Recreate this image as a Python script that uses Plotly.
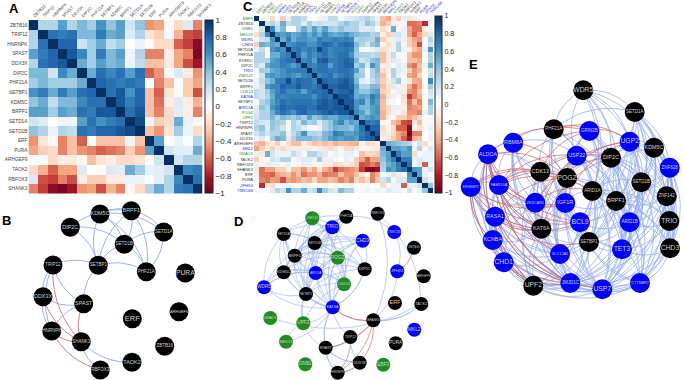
import numpy as np
import plotly.graph_objects as go

# ---------- Panel A correlation data ----------
genes_a = ["ZBTB16","TRIP12","HNRNPK","SPAST","DDX3X","DIP2C","PHF21A","SETBP1","KDM5C","BRPF1",
           "SETD1A","SETD1B","ERF","PURA","ARHGEF9","TAOK2","RBFOX3","SHANK3"]
upper_a = [
 [1,.3,.3,.55,.3,.45,.35,.6,.4,.55,.2,.4,-.45,-.4,.03,-.2,.15,-.5],
 [1,.75,.7,.75,.45,.45,.7,.5,.55,.15,.3,-.15,-.25,.03,-.35,-.65,-.7],
 [1,.8,.8,.2,.35,.5,.25,.35,0,.08,-.03,-.2,-.2,-.6,-.7,-.9],
 [1,.85,.65,.35,.7,.45,.55,.08,.3,-.5,-.5,-.1,-.4,-.5,-.95],
 [1,.5,.35,.55,.45,.5,.08,.25,-.3,-.3,-.12,-.4,-.65,-.85],
 [1,.5,.75,.65,.75,.55,.75,-.6,-.45,-.05,.15,-.1,-.45],
 [1,.8,.75,.7,.75,.7,.02,-.5,-.3,0,-.25,-.4],
 [1,.75,.85,.6,.8,-.3,-.6,-.15,-.03,-.25,-.65],
 [1,.85,.7,.8,-.3,-.55,-.1,.15,-.1,-.35],
 [1,.75,.85,-.3,-.5,-.2,.12,-.1,-.5],
 [1,.9,.08,-.25,-.2,.5,.1,-.05],
 [1,-.3,-.45,-.15,.35,.08,-.2],
 [1,.55,.02,.1,.02,.3],
 [1,.2,.12,.12,.5],
 [1,.2,.3,.3],
 [1,.65,.7],
 [1,.75],
 [1],
]

# ---------- Panel C correlation data ----------
genes_c = ["EBF3","ZBTB16","GNB1","MED13","WDR5","CHD3","SETD1A","PHF21A","KDM5C","DIP2C","TRIO","ZNF142",
           "SETD1B","BRPF1","CDK13","KAT6A","SETBP1","ARID1A","POGZ","UPF2","TRIP12","HNRNPK","SPAST","DDX3X",
           "ARHGEF9","MKL2","GNAO1","TAOK2","RBFOX3","SHANK3","ERF","PURA","ZFHX4","TNRC6B"]
group_c = ["g","k","g","g","b","b","k","k","k","k","b","g","k","k","g","b","k","b","g","g","k","k","k","k",
           "k","b","g","k","k","k","k","k","b","b"]
upper_c = [
 [1,.05,.02,-.2,.05,-.25,.1,.3,.3,.25,.03,.02,.08,.1,.25,.25,.05,.12,.15,.2,.25,.3,.2,.08,-.3,-.4,-.1,-.25,.1,-.15,-.1,.02,0,.05],
 [1,.2,.3,.2,.5,.25,.3,.3,.15,.35,.2,.25,.2,.2,.2,.3,.4,.3,.3,.2,.4,.3,.15,-.35,-.25,-.1,-.05,-.05,-.55,-.55,-.5,-.75,.05],
 [1,.65,.25,.45,.05,.05,.3,.5,.35,.55,.4,.55,.35,.3,.4,.3,.3,.3,.15,.15,.2,.05,-.2,-.1,.5,-.05,.1,-.4,-.55,-.55,-.1,.05],
 [1,.6,.55,.6,.5,.55,.6,.5,.6,.5,.65,.55,.5,.55,.6,.5,.45,.4,.4,.3,.35,-.1,-.25,.2,.2,.1,-.4,-.6,-.4,-.2,.15],
 [1,.5,.7,.5,.6,.6,.55,.55,.7,.65,.65,.7,.65,.7,.65,.3,.35,.3,.3,.5,-.25,-.1,.1,.15,.1,-.25,-.4,-.45,.05,.3],
 [1,.6,.65,.7,.7,.6,.6,.7,.8,.75,.65,.75,.8,.75,.45,.3,.2,.4,.45,-.05,-.2,.1,.3,-.05,-.25,-.35,-.65,0,.2],
 [1,.7,.75,.65,.7,.65,.9,.75,.65,.7,.7,.75,.7,.4,.05,.05,.1,.15,-.2,-.1,.1,.3,.1,-.1,-.3,-.4,.1,.6],
 [1,.75,.55,.7,.6,.7,.75,.65,.7,.75,.75,.6,.35,.3,.3,.25,.3,-.3,-.1,.25,.05,.05,-.3,-.45,-.45,.05,.3],
 [1,.65,.7,.55,.8,.85,.7,.7,.75,.8,.75,.45,.2,.25,.4,.45,-.3,-.1,.15,.1,-.05,-.3,-.3,-.4,.05,.3],
 [1,.7,.65,.75,.75,.55,.7,.75,.8,.8,.35,.45,.15,.6,.45,-.1,-.1,.05,.15,.1,-.45,-.55,-.3,.1,.5],
 [1,.7,.75,.75,.7,.7,.75,.75,.7,.55,.3,.05,.3,.45,-.2,-.1,.3,.15,.1,-.25,-.45,-.35,-.05,.2],
 [1,.65,.7,.75,.6,.7,.75,.7,.4,.35,.05,.3,.4,-.3,-.05,.3,.1,-.05,-.4,-.45,-.2,0,.25],
 [1,.8,.75,.75,.8,.85,.75,.45,.15,.1,.25,.35,-.25,-.1,.2,.35,.05,-.15,-.35,-.4,0,.65],
 [1,.8,.8,.85,.85,.8,.55,.3,.3,.45,.45,-.3,-.15,.15,.1,-.1,-.35,-.55,-.4,-.05,.35],
 [1,.75,.8,.8,.85,.5,.4,.4,.5,.55,-.25,-.2,.05,.1,-.1,-.45,-.5,-.3,0,.2],
 [1,.85,.85,.8,.5,.55,.5,.7,.6,-.35,-.15,.1,.05,-.2,-.7,-.5,-.35,-.05,.15],
 [1,.85,.85,.6,.65,.45,.65,.55,-.3,-.05,.05,0,-.15,-.55,-.3,-.5,-.05,.45],
 [1,.85,.6,.45,.45,.55,.6,-.3,-.2,.1,.1,-.1,-.5,-.45,-.4,-.05,.3],
 [1,.65,.55,.4,.55,.6,-.35,-.2,.1,.05,-.15,-.45,-.45,-.5,.1,.3],
 [1,.5,.55,.6,.55,-.35,-.1,.05,-.25,-.25,-.4,-.3,-.2,.05,.05],
 [1,.75,.7,.75,-.05,-.05,-.3,-.4,-.65,-.7,-.15,-.3,.05,.05],
 [1,.8,.8,-.2,-.05,-.2,-.6,-.6,-.9,-.05,-.2,-.05,.1],
 [1,.85,-.15,-.1,-.2,-.4,-.5,-.95,-.5,-.5,0,.05],
 [1,-.1,-.15,-.25,-.4,-.6,-.85,-.35,-.3,0,.1],
 [1,.5,.45,.4,.35,.3,.05,.2,-.2,.05],
 [1,.55,.55,.5,.6,.1,.3,-.05,.15],
 [1,.7,.55,.55,-.2,.05,.1,.1],
 [1,.7,.7,.1,.15,.1,.1],
 [1,.75,.05,.15,-.6,.05],
 [1,.6,.55,.1,.2],
 [1,.55,.1,.03],
 [1,.2,.1],
 [1,.4],
 [1],
]

# ---------- Network node tables ----------
pos_b = {"DIP2C":(70.3,227.3),"KDM5C":(100,214),"BRPF1":(131.3,210.7),"SETD1A":(163.7,232),"SETD1B":(124.3,244.3),
         "SETBP1":(98.3,265.3),"PHF21A":(146.3,271.7),"PURA":(185.3,273),"TRIP12":(53,265),"DDX3X":(43,296.7),
         "SPAST":(83.7,303.7),"ARHGEF9":(179,311.7),"ERF":(132.3,318.7),"HNRNPK":(51.7,331),"SHANK3":(81.3,341.7),
         "ZBTB16":(164.7,346.3),"TAOK2":(132,362.3),"RBFOX3":(100.3,370)}
pos_d = {"ZNF142":(312.3,218.3),"PHF21A":(346.3,216.7),"RBFOX3":(377.7,213.7),"TRIO":(332.3,227.3),"TNRC6B":(394.3,232),
         "SETD1A":(283.7,234),"CHD3":(362.7,240.7),"SETD1B":(314.7,243),"ZBTB16":(414,247.7),"BRPF1":(294.7,255.7),
         "POGZ":(337.7,257.7),"DIP2C":(364.7,269.3),"ZFHX4":(397.3,271.3),"KDM5C":(283.7,272.3),"ARID1A":(315.7,273),
         "ARHGEF9":(423.7,276.3),"CDK13":(344,284.3),"WDR5":(264,287.3),"SETBP1":(306,294),"ERF":(395,303),
         "TAOK2":(421.3,304),"KAT6A":(332.7,307.3),"GNAO1":(270.3,318),"SHANK3":(373.3,320.3),"UPF2":(303.3,323.3),
         "MKL2":(414.3,329.7),"TRIP12":(350.3,337),"MED13":(286,341.7),"PURA":(395.7,343.3),"SPAST":(325.7,347.7),
         "GNB1":(305.3,364.3),"DDX3X":(359.7,362.7),"EBF3":(383.3,364.7),"HNRNPK":(337.7,372.7)}
extra_blue_d = [("PHF21A","TNRC6B"),("TNRC6B","ZFHX4"),("ZFHX4","SHANK3"),("SHANK3","TAOK2"),("KAT6A","UPF2"),
                ("KAT6A","MED13"),("UPF2","MED13"),("KAT6A","SPAST"),("UPF2","SPAST"),("SPAST","TRIP12"),
                ("SPAST","HNRNPK"),("SPAST","DDX3X"),("TRIP12","HNRNPK"),("KAT6A","TRIP12"),("SETBP1","UPF2"),
                ("WDR5","KDM5C"),("WDR5","ARID1A"),("WDR5","SETBP1"),("SETBP1","KAT6A"),("ARID1A","UPF2"),
                ("CDK13","UPF2"),("CDK13","KAT6A"),("POGZ","KAT6A"),("DIP2C","KAT6A"),("CHD3","KAT6A")]
extra_red_d = [("KAT6A","SHANK3"),("DDX3X","HNRNPK")]
genes_e = ["WDR5","SETD1A","PHF21A","GRIN2B","UGP2","RBM8A","KDM5C","ALDOA","USP22","DIP2C","ZNF628","CDK13","POGZ",
           "SETD1B","EIF4EBP2","FAM114A","ARID1A","ZNF142","BRPF1","ZKSCAN1","IGF1R","RASA1","BCL9","ARID1B","TRIO",
           "KAT6A","KCNBA","SETBP1","TET3","CHD3","SLC12A5","CHD1","CTTNBP2","JMJD1C","UPF2","USP7"]
pos_e = [(583.3,90.3),(634.7,112),(553.7,129.3),(589.3,131),(629.7,141.7),(513.3,142.7),(654,147.7),(488,154.3),
         (576.7,155.7),(611,157.7),(669.7,167.7),(540.3,171.7),(567,178),(641.3,182.3),(470.7,187),(499,185),
         (592.3,191),(666.7,196.3),(616,201),(535.3,202.7),(565.3,203),(495,216.7),(580,222.3),(629.7,222.3),
         (669.3,221),(541.3,228.7),(492.7,240),(589,242),(622,249.3),(670,248.3),(560,254),(503.7,262.3),
         (640,283),(570.3,283),(533.3,285.7),(602.3,289.3)]
black_e = {"WDR5","SETD1A","PHF21A","KDM5C","DIP2C","CDK13","POGZ","SETD1B","ARID1A","ZNF142","BRPF1","TRIO",
           "KAT6A","SETBP1","CHD3","UPF2"}
blue_edges_e = {
 0:[1,4,6,8,9,13,16,18,22,2],1:[2,4,6,9,10,13,16,17,18,23,24,28,29],2:[8,11,12,16,18,20,22,27,5],
 3:[8,9,12,16,18,20,22,23,27,28],4:[6,9,10,13,16,17,18,22,23,24,27,28,29,35],5:[7,8,11,15,19,20,22,25,30,33],
 6:[9,10,13,16,17,18,23,24,27,28,29,32,35],7:[11,14,15,19,21,25,26,30,31,33,34],
 8:[9,11,12,13,16,18,20,22,23,27,28,30,33,35],9:[12,13,16,17,18,22,23,24,27,28,29,32,35],
 10:[13,17,18,23,24,28,29,32,35],11:[12,15,19,20,22,25,27,30,33,34,35],12:[16,18,20,22,23,25,27,28,30,33,35],
 13:[16,17,18,22,23,24,27,28,29,32,33,35],14:[15,19,21,25,26,30,31,33,34,35],15:[19,20,21,25,26,30,31,33,34],
 16:[18,20,22,23,24,27,28,29,30,32,33,35],17:[18,23,24,28,29,32,35],18:[20,22,23,24,27,28,29,30,32,33,35],
 19:[20,21,25,26,30,31,33,34,35],20:[22,25,27,28,30,33,34,35],21:[25,26,30,31,33,34,35],
 22:[23,25,27,28,30,32,33,34,35],23:[24,27,28,29,32,33,35],24:[28,29,32,35,34],25:[26,27,30,31,33,34,35],
 26:[30,31,33,34,35,32],27:[28,30,32,33,34,35],28:[29,32,33,35,34],29:[32,35,33],30:[31,33,34,35],31:[33,34,35,32],
 32:[33,35,34],33:[34,35],34:[35]}
red_edges_e = {14:[21,26,11,12,20,34,25,22],7:[21,25,19,12,3,34,33,30,22],15:[11,12,8,3,25,20,33,22,16],
               21:[33,25,12,27,34,22,35],26:[33],5:[12],19:[9,16,4],31:[33],2:[3,4],3:[4],11:[3,9],25:[8,9],12:[4],20:[4]}

panel_letters = [("A",7,9),("B",0,220),("C",241,7),("D",232,221),("E",467,65)]
colorbar_ticks = [-1,-.8,-.6,-.4,-.2,0,.2,.4,.6,.8,1]

RDBU = [[0,"#67001F"],[.1,"#B2182B"],[.2,"#D6604D"],[.3,"#F4A582"],[.4,"#FDDBC7"],[.5,"#FFFFFF"],
        [.6,"#D1E5F0"],[.7,"#92C5DE"],[.8,"#4393C3"],[.9,"#2166AC"],[1,"#053061"]]
W, H = 685, 380
FONT = "Liberation Sans, Arial, sans-serif"
GROUP_COL = {"g":"#2e8b22","b":"#2a2af0","k":"#333333"}
NODE_COL = {"g":"#228B22","b":"#0000FF","k":"#000000"}


def symmetric(upper):
    n = len(upper)
    m = np.zeros((n, n))
    for i, row in enumerate(upper):
        assert len(row) == n - i, (i, len(row))
        m[i, i:] = row
        m[i:, i] = row
    return m


def arc(p, q, centre, k, n=14):
    p, q = np.array(p), np.array(q)
    mid = (p + q) / 2
    d = q - p
    nrm = np.array([-d[1], d[0]])
    if np.dot(nrm, mid - centre) < 0:
        nrm = -nrm
    c = mid + k * nrm
    t = np.linspace(0, 1, n)[:, None]
    pts = (1 - t) ** 2 * p + 2 * t * (1 - t) * c + t ** 2 * q
    return pts


def edge_trace(pairs, pos, colour, width, opacity, k=.22, xa="x3", ya="y3"):
    all_pts = np.array(list(pos.values()))
    centre = all_pts.mean(axis=0)
    xs, ys = [], []
    for i, j in pairs:
        pts = arc(pos[i], pos[j], centre, k)
        xs += list(pts[:, 0]) + [None]
        ys += list(pts[:, 1]) + [None]
    return go.Scatter(x=xs, y=ys, mode="lines", xaxis=xa, yaxis=ya, hoverinfo="skip", showlegend=False,
                      opacity=opacity, line=dict(color=colour, width=width))


def node_trace(names, pos, cols, diam, k, maxsize):
    sizes = [min(maxsize, k / len(s)) for s in names]
    return go.Scatter(x=[p[0] for p in pos], y=[p[1] for p in pos], mode="markers+text", xaxis="x3", yaxis="y3",
                      showlegend=False, hoverinfo="skip",
                      marker=dict(size=diam, color=cols, line=dict(width=0)),
                      text=names, textposition="middle center",
                      textfont=dict(size=sizes, color="#d4d4d4", family=FONT))


def heat(m, xa, ya, cbx, cblen, cby, cbthick, cbfont):
    n = len(m)
    return go.Heatmap(z=m, x=list(range(n)), y=list(range(n)), xaxis=xa, yaxis=ya, zmin=-1, zmax=1, colorscale=RDBU,
                      hoverinfo="skip",
                      colorbar=dict(x=cbx, xanchor="left", y=cby, yanchor="middle", len=cblen, lenmode="fraction",
                                    thickness=cbthick, thicknessmode="pixels", xpad=0, ypad=0, tickmode="array",
                                    tickvals=colorbar_ticks, ticktext=[("−1" if v == -1 else "1" if v == 1 else "0" if v == 0 else f"{v:.1f}".replace("-", "−")) for v in colorbar_ticks],
                                    ticks="", outlinewidth=1, outlinecolor="#222",
                                    tickfont=dict(size=cbfont, color="#222", family=FONT)))


mat_a, mat_c = symmetric(upper_a), symmetric(upper_c)

fig = go.Figure()
fig.add_trace(heat(mat_a, "x", "y", 204.5/W, 173/H, 1-106.5/H, 8, 8))
fig.add_trace(heat(mat_c, "x2", "y2", 435/W, 177/H, 1-104.5/H, 7, 7))

# network edges from thresholded correlations
idx_a = {g: i for i, g in enumerate(genes_a)}
pairs = [(a, b) for i, a in enumerate(genes_a) for b in genes_a[i+1:]]
blue_b = [(a, b) for a, b in pairs if mat_a[idx_a[a], idx_a[b]] >= .7]
red_b = [(a, b) for a, b in pairs if mat_a[idx_a[a], idx_a[b]] <= -.7]
fig.add_trace(edge_trace(blue_b, pos_b, "#8aa6f5", .9, .95))
fig.add_trace(edge_trace(red_b, pos_b, "#c9706a", .9, .95))

idx_c = {g: i for i, g in enumerate(genes_c)}
pairs = [(a, b) for i, a in enumerate(genes_c) for b in genes_c[i+1:]]
blue_d = [(a, b) for a, b in pairs if mat_c[idx_c[a], idx_c[b]] >= .7] + extra_blue_d
red_d = [(a, b) for a, b in pairs if mat_c[idx_c[a], idx_c[b]] <= -.7] + extra_red_d
fig.add_trace(edge_trace(blue_d, pos_d, "#8aa6f5", .6, .9))
fig.add_trace(edge_trace(red_d, pos_d, "#c9706a", .7, .95))

blue_e = [(i, j) for i, js in blue_edges_e.items() for j in js]
red_e = [(i, j) for i, js in red_edges_e.items() for j in js]
pe = {i: p for i, p in enumerate(pos_e)}
fig.add_trace(edge_trace(blue_e, pe, "#7f9cf2", .75, .85, k=.26))
fig.add_trace(edge_trace(red_e, pe, "#c9605a", .75, .9, k=.26))

names_b = list(pos_b)
fig.add_trace(node_trace(names_b, list(pos_b.values()), "#000000", 19, 27, 7.5))
names_d = list(pos_d)
cols_d = [NODE_COL[group_c[idx_c[g]]] for g in names_d]
fig.add_trace(node_trace(names_d, list(pos_d.values()), cols_d, 14, 19, 5.5))
cols_e = ["#000000" if g in black_e else "#0000FF" for g in genes_e]
fig.add_trace(node_trace(genes_e, pos_e, cols_e, 20, 27, 7.5))


def dom(a, b, total):
    return [a / total, b / total]


ticks_c = [f'<span style="color:{GROUP_COL[c]}">{g}</span>' for g, c in zip(genes_c, group_c)]
n_a, n_c = len(genes_a), len(genes_c)
fig.update_layout(
    width=W, height=H, autosize=False, margin=dict(l=0, r=0, t=0, b=0), paper_bgcolor="white", plot_bgcolor="rgba(0,0,0,0)",
    showlegend=False, font=dict(family=FONT),
    xaxis=dict(domain=dom(28.5, 202.5, W), range=[-.5, n_a-.5], side="top", tickmode="array", tickvals=list(range(n_a)),
               ticktext=genes_a, tickangle=-45, tickfont=dict(size=4.3, color="#444"), ticks="", showgrid=False, zeroline=False,
               automargin=False, anchor="y", ticklabeloverflow="allow"),
    yaxis=dict(domain=[1-193.5/H, 1-20/H], range=[n_a-.5, -.5], tickmode="array", tickvals=list(range(n_a)),
               ticktext=genes_a, tickfont=dict(size=4.8, color="#444"), ticks="", showgrid=False, zeroline=False,
               automargin=False, anchor="x"),
    xaxis2=dict(domain=dom(254, 433, W), range=[-.5, n_c-.5], side="top", tickmode="array", tickvals=list(range(n_c)),
                ticktext=ticks_c, tickangle=-45, tickfont=dict(size=3.8, color="#444"), ticks="", showgrid=False, zeroline=False,
                automargin=False, anchor="y2", ticklabeloverflow="allow"),
    yaxis2=dict(domain=[1-193/H, 1-16/H], range=[n_c-.5, -.5], tickmode="array", tickvals=list(range(n_c)),
                ticktext=ticks_c, tickfont=dict(size=4, color="#444"), ticks="", showgrid=False, zeroline=False,
                automargin=False, anchor="x2"),
    xaxis3=dict(domain=[0, 1], range=[0, W], visible=False, fixedrange=True, anchor="y3"),
    yaxis3=dict(domain=[0, 1], range=[H, 0], visible=False, fixedrange=True, anchor="x3"),
    annotations=[dict(text=f"<b>{t}</b>", x=x/W, y=1-y/H, xref="paper", yref="paper", xanchor="left", yanchor="middle",
                      showarrow=False, font=dict(size=13, color="#000", family=FONT)) for t, x, y in panel_letters],
)

fig.write_html("out.html", config={"displayModeBar": False},
               post_script="document.body.style.margin='0';document.documentElement.style.overflow='hidden';")
